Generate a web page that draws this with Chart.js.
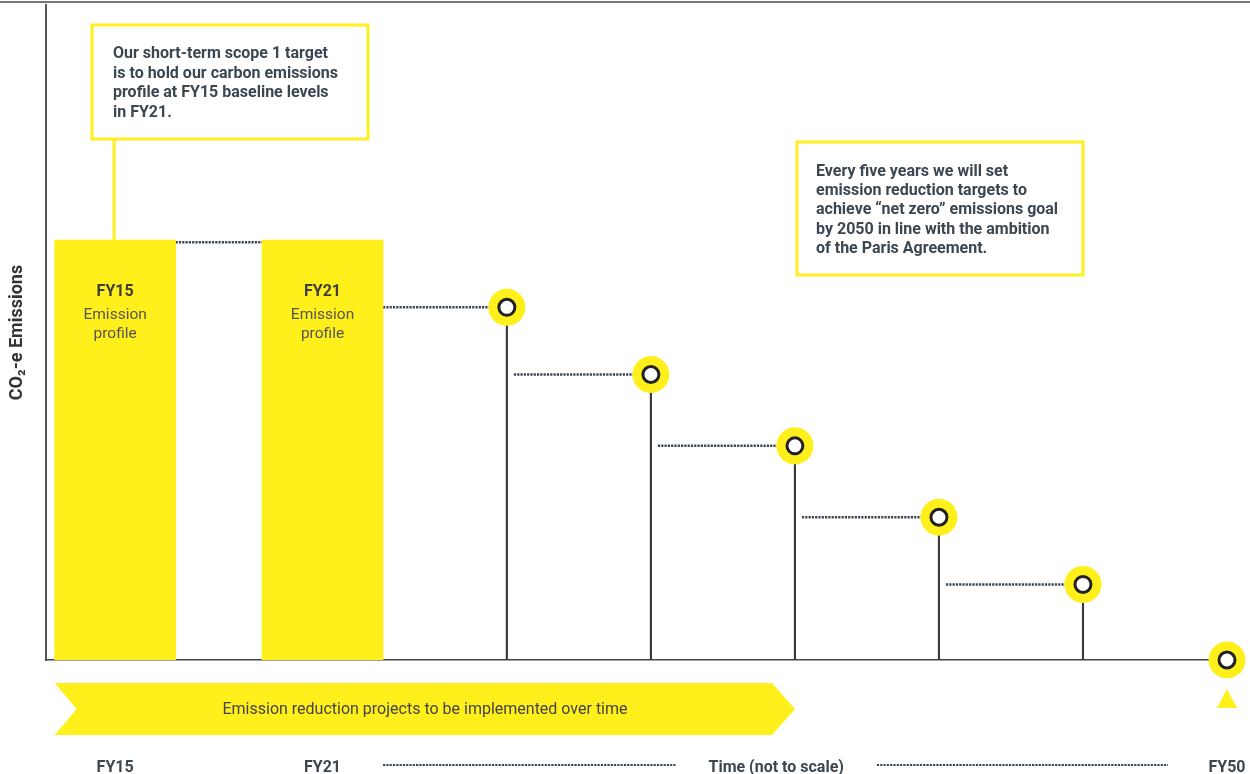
<!DOCTYPE html>
<html>
<head>
<meta charset="utf-8">
<script src="https://cdn.jsdelivr.net/npm/chart.js@4"></script>
<style>
  html, body { margin: 0; padding: 0; background: #fff; }
  canvas { display: block; }
</style>
</head>
<body>
<canvas id="roadmap" width="1250" height="774"></canvas>
<script>
// data
const baseX = [0.28, 1.72];            // FY15, FY21 bars
const baseLabels = ['FY15', 'FY21'];
const baseValues = [100, 100];
const targetX = [3, 4, 5, 6, 7, 8];
const targetValues = [84, 68, 51, 34, 18, 0];
const tickValues = [0.28, 1.72, 4.87, 8];
const tickLabels = ['FY15', 'FY21', 'Time (not to scale)', 'FY50'];

const yellow = '#FFEF1A';
const ink = '#3b4650';
const font = 'Roboto, "Liberation Sans", sans-serif';

const note1 = ['Our short-term scope 1 target', 'is to hold our carbon emissions',
  'profile at FY15 baseline levels', 'in FY21.'];
const note2 = ['Every five years we will set', 'emission reduction targets to',
  'achieve \u201cnet zero\u201d emissions goal', 'by 2050 in line with the ambition',
  'of the Paris Agreement.'];

function dotted(ctx, x1, x2, y, w) {
  ctx.save();
  ctx.strokeStyle = ink;
  ctx.lineWidth = w;
  ctx.setLineDash([2.2, 1.1]);
  ctx.beginPath();
  ctx.moveTo(x1, y);
  ctx.lineTo(x2, y);
  ctx.stroke();
  ctx.restore();
}

const decor = {
  id: 'decor',
  beforeDatasetsDraw(chart) {
    const ctx = chart.ctx;
    const xs = chart.scales.x, ys = chart.scales.y;
    const half = 60.5;

    // top rule
    ctx.save();
    ctx.fillStyle = '#777';
    ctx.fillRect(0, 1, chart.width, 2);

    // callout 1 + connector
    ctx.strokeStyle = yellow;
    ctx.lineWidth = 3;
    ctx.strokeRect(92, 25, 276, 114);
    const cx = xs.getPixelForValue(baseX[0]) - 1;
    ctx.beginPath();
    ctx.moveTo(cx, 139);
    ctx.lineTo(cx, ys.getPixelForValue(baseValues[0]));
    ctx.stroke();
    ctx.strokeRect(797, 142, 286, 133);

    ctx.fillStyle = ink;
    ctx.font = 'bold 16px ' + font;
    ctx.textBaseline = 'middle';
    note1.forEach((t, i) => ctx.fillText(t, 113, 54 + i * 19.5));
    ctx.font = 'bold 16px ' + font;
    note2.forEach((t, i) => ctx.fillText(t, 816, 172 + i * 19.2));

    // banner arrow
    const bx = xs.getPixelForValue(baseX[0]) - half;
    ctx.fillStyle = yellow;
    ctx.beginPath();
    ctx.moveTo(bx, 683);
    ctx.lineTo(772, 683);
    ctx.lineTo(795, 709);
    ctx.lineTo(772, 735);
    ctx.lineTo(bx, 735);
    ctx.lineTo(bx + 22, 709);
    ctx.closePath();
    ctx.fill();
    ctx.fillStyle = '#444';
    ctx.font = '16px ' + font;
    ctx.textAlign = 'center';
    ctx.fillText('Emission reduction projects to be implemented over time', 425, 710);
    ctx.restore();

    // dotted steps
    const topY = ys.getPixelForValue(baseValues[0]) + 2;
    dotted(ctx, xs.getPixelForValue(baseX[0]) + half, xs.getPixelForValue(baseX[1]) - half, topY, 2.5);
    let prevX = xs.getPixelForValue(baseX[1]) + half;
    targetX.forEach((v, i) => {
      const px = xs.getPixelForValue(v);
      if (i < targetX.length - 1) {
        dotted(ctx, prevX, px - 17, ys.getPixelForValue(targetValues[i]), 2.5);
      }
      prevX = px + 7;
    });

    // dotted time line
    ctx.save();
    ctx.font = 'bold 16px ' + font;
    const mid = xs.getPixelForValue(tickValues[2]);
    const tw = ctx.measureText(tickLabels[2]).width / 2;
    ctx.restore();
    dotted(ctx, xs.getPixelForValue(tickValues[1]) + half, mid - tw - 33, 765, 2);
    dotted(ctx, mid + tw + 33, xs.getPixelForValue(tickValues[3]) - 59, 765, 2);
  },
  afterDatasetsDraw(chart) {
    const ctx = chart.ctx;
    const xs = chart.scales.x, ys = chart.scales.y;
    ctx.save();
    ctx.textAlign = 'center';
    ctx.textBaseline = 'middle';
    baseX.forEach((v, i) => {
      const px = xs.getPixelForValue(v);
      ctx.fillStyle = '#3d3d3d';
      ctx.font = 'bold 16px ' + font;
      ctx.fillText(baseLabels[i], px, 292);
      ctx.fillStyle = '#555';
      ctx.font = '15.5px ' + font;
      ctx.fillText('Emission', px, 315);
      ctx.fillText('profile', px, 334);
    });
    // net zero marker
    const lx = xs.getPixelForValue(targetX[targetX.length - 1]);
    ctx.fillStyle = yellow;
    ctx.beginPath();
    ctx.moveTo(lx, 689);
    ctx.lineTo(lx + 10, 708);
    ctx.lineTo(lx - 10, 708);
    ctx.closePath();
    ctx.fill();
    ctx.restore();
  }
};

new Chart(document.getElementById('roadmap'), {
  type: 'bar',
  data: {
    datasets: [
      {
        type: 'line',
        data: targetX.map((x, i) => ({ x: x, y: targetValues[i] })),
        showLine: false,
        pointRadius: 8,
        pointBackgroundColor: '#fff',
        pointBorderColor: '#222',
        pointBorderWidth: 3,
        clip: false,
        order: 0
      },
      {
        type: 'line',
        data: targetX.map((x, i) => ({ x: x, y: targetValues[i] })),
        showLine: false,
        pointRadius: 18.5,
        pointBackgroundColor: yellow,
        pointBorderWidth: 0,
        clip: false,
        order: 1
      },
      {
        data: targetX.map((x, i) => ({ x: x, y: targetValues[i] })),
        backgroundColor: '#3a3a3a',
        barThickness: 1.5,
        grouped: false,
        order: 2
      },
      {
        data: baseX.map((x, i) => ({ x: x, y: baseValues[i] })),
        backgroundColor: yellow,
        barThickness: 121,
        grouped: false,
        order: 3
      }
    ]
  },
  options: {
    responsive: false,
    animation: false,
    layout: { autoPadding: false, padding: { top: 5, right: 23, left: 0, bottom: 0 } },
    plugins: { legend: { display: false }, tooltip: { enabled: false } },
    scales: {
      x: {
        type: 'linear',
        offset: false,
        min: -0.2,
        max: 8,
        grid: { display: false },
        border: { display: true, color: '#444', width: 1.5 },
        afterBuildTicks(scale) {
          scale.ticks = tickValues.map(v => ({ value: v }));
        },
        afterFit(scale) {
          scale.height = 114;
          scale.paddingLeft = 0;
          scale.paddingRight = 0;
        },
        ticks: {
          autoSkip: false,
          maxRotation: 0,
          padding: 90,
          color: ink,
          font: { family: font, size: 16, weight: 'bold' },
          callback: (v, i) => tickLabels[i]
        }
      },
      y: {
        min: 0,
        max: 156,
        grid: { display: false },
        border: { display: true, color: '#555', width: 2 },
        ticks: { display: false },
        afterFit(scale) {
          scale.width = 46;
          scale.paddingTop = 0;
          scale.paddingBottom = 0;
        },
        title: {
          display: true,
          text: 'CO\u2082-e Emissions',
          color: '#333',
          padding: { top: 7, bottom: 0 },
          font: { family: font, size: 18, weight: 'bold' }
        }
      }
    }
  },
  plugins: [decor]
});
</script>
</body>
</html>
